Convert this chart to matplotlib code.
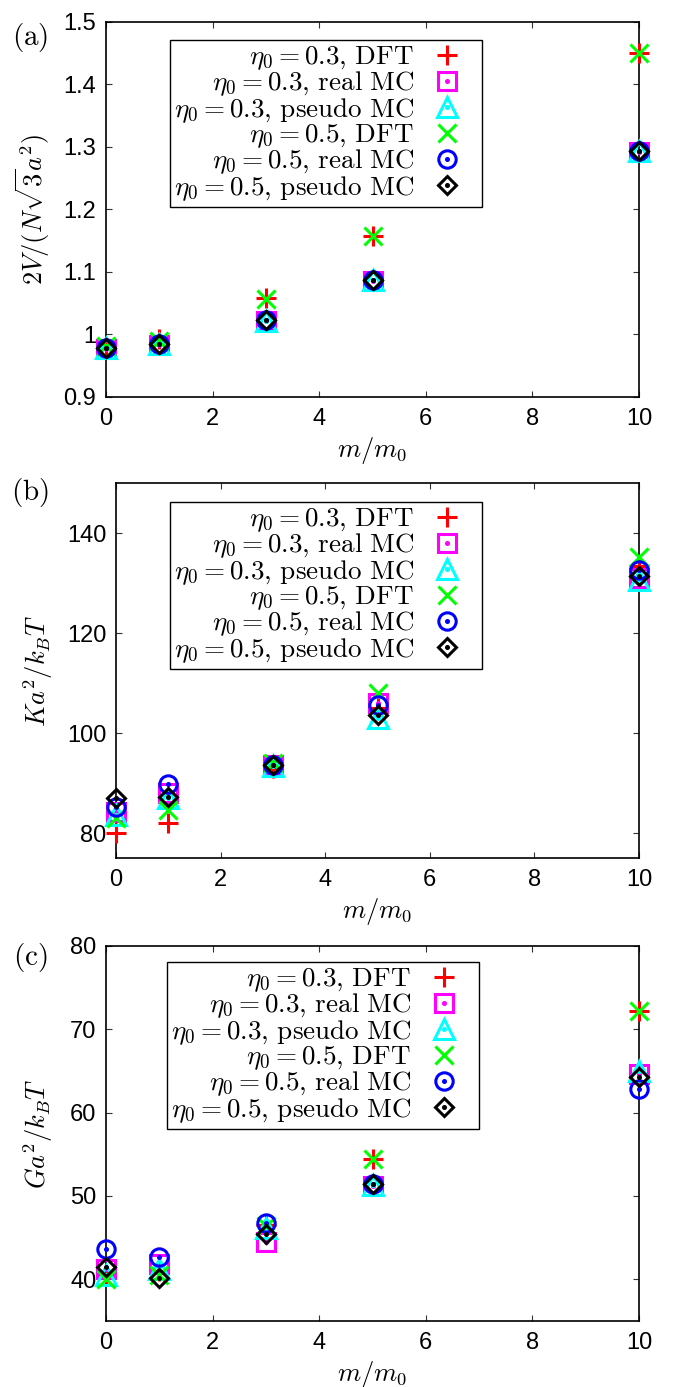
import matplotlib
matplotlib.use("Agg")
import matplotlib.pyplot as plt
from matplotlib.legend_handler import HandlerTuple
from matplotlib.ticker import FuncFormatter, MultipleLocator

plt.rcParams['mathtext.fontset'] = 'cm'
plt.rcParams['font.family'] = ['Liberation Sans', 'DejaVu Sans']

# ---------------- data ----------------
mass_ratio = [0, 1, 3, 5, 10]

series_labels = [
    r'$\eta_0 = 0.3,\,\mathrm{DFT}$',
    r'$\eta_0 = 0.3,\,\mathrm{real}\ \mathrm{MC}$',
    r'$\eta_0 = 0.3,\,\mathrm{pseudo}\ \mathrm{MC}$',
    r'$\eta_0 = 0.5,\,\mathrm{DFT}$',
    r'$\eta_0 = 0.5,\,\mathrm{real}\ \mathrm{MC}$',
    r'$\eta_0 = 0.5,\,\mathrm{pseudo}\ \mathrm{MC}$',
]

# panel (a): 2V/(N sqrt3 a^2)
vol_dft_03 = [0.980, 0.993, 1.058, 1.157, 1.450]
vol_real_03 = [0.977, 0.983, 1.021, 1.086, 1.292]
vol_pseudo_03 = [0.978, 0.984, 1.022, 1.087, 1.293]
vol_dft_05 = [0.981, 0.990, 1.056, 1.157, 1.450]
vol_real_05 = [0.979, 0.985, 1.023, 1.087, 1.293]
vol_pseudo_05 = [0.979, 0.985, 1.023, 1.087, 1.293]

# panel (b): K a^2 / kBT
bulk_dft_03 = [80.0, 82.0, 93.0, 105.0, 133.5]
bulk_real_03 = [84.3, 88.0, 93.6, 106.0, 131.0]
bulk_pseudo_03 = [83.6, 87.0, 93.5, 103.0, 130.6]
bulk_dft_05 = [83.0, 84.7, 94.0, 108.0, 135.2]
bulk_real_05 = [85.3, 89.8, 93.6, 105.6, 132.6]
bulk_pseudo_05 = [87.0, 87.3, 93.6, 103.6, 131.4]

# panel (c): G a^2 / kBT
shear_dft_03 = [40.5, 41.0, 46.5, 54.4, 72.2]
shear_real_03 = [41.3, 41.8, 44.5, 51.2, 64.6]
shear_pseudo_03 = [40.5, 41.2, 46.2, 51.3, 65.0]
shear_dft_05 = [40.0, 40.5, 46.4, 54.4, 72.2]
shear_real_05 = [43.6, 42.7, 46.8, 51.5, 62.9]
shear_pseudo_05 = [41.5, 40.2, 45.5, 51.5, 64.3]

y_labels = [r'$2V/(N\sqrt{3}a^2)$', r'$Ka^2/k_BT$', r'$Ga^2/k_BT$']
panel_tags = [r'$\mathrm{(a)}$', r'$\mathrm{(b)}$', r'$\mathrm{(c)}$']

# ---------------- styles ----------------
styles = [
    dict(marker='+', color='#ff0000', ms=14, dot=False),
    dict(marker='s', color='#ff00ff', ms=12.5, dot=True),
    dict(marker='^', color='#00ffff', ms=14, dot=True),
    dict(marker='x', color='#00ff00', ms=13, dot=False),
    dict(marker='o', color='#0000ff', ms=12.5, dot=True),
    dict(marker='D', color='#000000', ms=9.5, dot=True),
]

W, H = 673, 1387
fig = plt.figure(figsize=(W / 100, H / 100), dpi=100)

def frac_rect(left, right, top, bottom):
    return [left / W, 1 - bottom / H, (right - left) / W, (bottom - top) / H]

panels = [
    dict(rect=frac_rect(106, 639, 22, 397),
         series=[vol_dft_03, vol_real_03, vol_pseudo_03, vol_dft_05, vol_real_05, vol_pseudo_05],
         ylim=(0.9, 1.5), ystep=0.1, leg=((482 - 106) / 533, (397 - 40) / 375),
         ylab_x=-0.137, tag_y=37),
    dict(rect=frac_rect(116, 639, 483, 858),
         series=[bulk_dft_03, bulk_real_03, bulk_pseudo_03, bulk_dft_05, bulk_real_05, bulk_pseudo_05],
         ylim=(75, 150), ystep=20, leg=((482 - 116) / 523, (858 - 502) / 375),
         ylab_x=-0.149, tag_y=493),
    dict(rect=frac_rect(106, 639, 946, 1321),
         series=[shear_dft_03, shear_real_03, shear_pseudo_03, shear_dft_05, shear_real_05, shear_pseudo_05],
         ylim=(35, 80), ystep=10, leg=((479 - 106) / 533, (1321 - 962) / 375),
         ylab_x=-0.128, tag_y=957),
]

for i, p in enumerate(panels):
    ax = fig.add_axes(p['rect'])
    handles = []
    for vals, st in zip(p['series'], styles):
        h, = ax.plot(mass_ratio, vals, linestyle='none', marker=st['marker'],
                     mfc='none', mec=st['color'], ms=st['ms'], mew=2.2,
                     clip_on=False, zorder=3)
        if st['dot']:
            d, = ax.plot(mass_ratio, vals, linestyle='none', marker='o',
                         color=st['color'], ms=2.6, clip_on=False, zorder=3)
            handles.append((h, d))
        else:
            handles.append(h)
    ax.set_xlim(0, 10)
    ax.set_ylim(*p['ylim'])
    ax.xaxis.set_major_locator(MultipleLocator(2))
    if i == 1:
        ax.set_yticks([80, 100, 120, 140])
    else:
        ax.yaxis.set_major_locator(MultipleLocator(p['ystep']))
    ax.yaxis.set_major_formatter(FuncFormatter(lambda v, pos: f'{v:g}'))
    ax.tick_params(direction='in', length=4.5, width=0.8, top=True, right=True,
                   labelsize=17, color='#333333')
    ax.tick_params(axis='y', pad=7)
    ax.tick_params(axis='x', pad=8)
    for s in ax.spines.values():
        s.set_linewidth(1.2)
    ax.set_xlabel(r'$m/m_0$', fontsize=19, va='center')
    ax.xaxis.set_label_coords(0.5, -0.142)
    ax.set_ylabel(y_labels[i], fontsize=19, va='center')
    ax.yaxis.set_label_coords(p['ylab_x'], 0.5)
    leg = ax.legend(handles, series_labels, loc='upper right',
                    bbox_to_anchor=p['leg'], markerfirst=False, fontsize=19.5,
                    frameon=True, fancybox=False, edgecolor='black', framealpha=1,
                    borderpad=0.15, labelspacing=-0.09, handlelength=2.3,
                    handletextpad=0.05, borderaxespad=0,
                    handler_map={tuple: HandlerTuple(ndivide=1, pad=0)})
    leg.get_frame().set_linewidth(1.0)
    fig.text(30 / W, 1 - p['tag_y'] / H, panel_tags[i], fontsize=21,
             ha='center', va='center')

fig.savefig('out.png', dpi=100)
